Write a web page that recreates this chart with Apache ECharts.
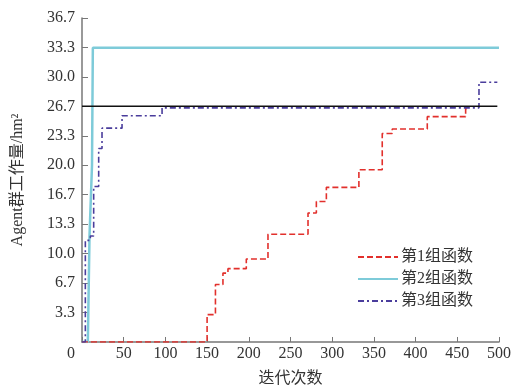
<!DOCTYPE html>
<html>
<head>
<meta charset="utf-8">
<script src="https://cdn.jsdelivr.net/npm/echarts@6/dist/echarts.min.js"></script>
<style>
  html, body { margin: 0; padding: 0; background: #fff; }
  #main { width: 518px; height: 392px; }
</style>
</head>
<body>
<div id="main"></div>
<script>
// 迭代次数 / 工作量 (step points)
const redPts = [[0, 0], [150, 3.1], [160, 6.5], [169, 7.8], [175, 8.3], [197, 9.4], [223, 12.2],
  [271, 14.6], [281, 15.9], [293, 17.5], [332, 19.5], [360, 23.6], [372, 24.1], [414, 25.5],
  [460, 26.4], [462, 26.4]];
const cyanPts = [[0, 0], [7, 0], [9, 12], [12, 20], [13, 33.3], [500, 33.3]];
const purplePts = [[0, 0], [4, 11.5], [10, 12], [14, 17.6], [20, 21.9], [24, 24.2], [48, 25.6],
  [96, 26.5], [476, 29.4], [498, 29.4]];
const refPts = [[0, 26.67], [498, 26.67]];
const seriesNames = ['第1组函数', '第2组函数', '第3组函数'];

const font = "'Liberation Serif', 'Noto Sans CJK SC', serif";
let chart = echarts.init(document.getElementById('main'));
let option = {
  animation: false,
  grid: { left: 82, right: 19, top: 18, bottom: 48 },
  legend: {
    orient: 'vertical',
    left: 352,
    top: 244,
    itemWidth: 40,
    itemHeight: 10,
    itemGap: 6,
    data: seriesNames,
    itemStyle: { opacity: 0 },
    textStyle: { fontFamily: font, fontSize: 16, color: '#333', padding: [0, 0, 0, -2] }
  },
  xAxis: {
    type: 'value',
    min: 0,
    max: 500,
    interval: 50,
    name: '迭代次数',
    nameLocation: 'middle',
    nameGap: 29,
    nameTextStyle: { fontFamily: font, fontSize: 16, color: '#333' },
    axisLine: { lineStyle: { color: '#777', width: 1.5 } },
    axisTick: { inside: true, length: 5, lineStyle: { color: '#777' } },
    splitLine: { show: false },
    axisLabel: {
      margin: 4,
      fontFamily: font,
      fontSize: 16,
      color: '#333',
      formatter: (v) => v === 0 ? '{z|0}' : v,
      rich: { z: { fontFamily: font, fontSize: 16, color: '#333', padding: [0, 22, 0, 0] } }
    }
  },
  yAxis: {
    type: 'value',
    min: 0,
    max: 110 / 3,
    interval: 10 / 3,
    name: 'Agent群工作量/hm²',
    nameLocation: 'middle',
    nameGap: 56,
    nameTextStyle: { fontFamily: font, fontSize: 16, color: '#333' },
    axisLine: { show: true, lineStyle: { color: '#777', width: 1.5 } },
    axisTick: { show: true, inside: true, length: 6, lineStyle: { color: '#777' } },
    splitLine: { show: false },
    axisLabel: {
      margin: 7,
      fontFamily: font,
      fontSize: 16,
      color: '#333',
      formatter: (v) => v < 0.01 ? '' : v.toFixed(1)
    }
  },
  series: [
    {
      name: seriesNames[0], type: 'line', step: 'end', symbol: 'none', data: redPts,
      lineStyle: { color: '#e2302c', width: 1.6, type: [6, 3] }, itemStyle: { color: '#e2302c' }, z: 3
    },
    {
      name: seriesNames[1], type: 'line', symbol: 'none', data: cyanPts,
      lineStyle: { color: '#7ecbd9', width: 2.5 }, itemStyle: { color: '#7ecbd9' }, z: 2
    },
    {
      name: seriesNames[2], type: 'line', step: 'end', symbol: 'none', data: purplePts,
      lineStyle: { color: '#4a3d9c', width: 1.6, type: [6, 3, 2, 3] }, itemStyle: { color: '#4a3d9c' }, z: 3
    },
    {
      name: 'ref', type: 'line', symbol: 'none', data: refPts,
      lineStyle: { color: '#111', width: 1.5 }, z: 4
    }
  ]
};
chart.setOption(option);
</script>
</body>
</html>
